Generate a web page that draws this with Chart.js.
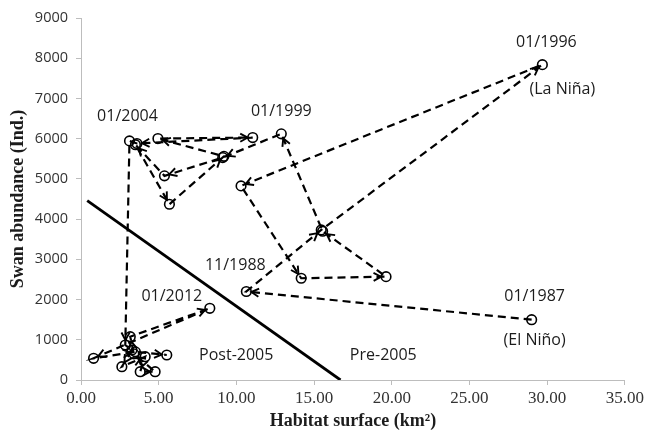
<!DOCTYPE html>
<html>
<head>
<meta charset="utf-8">
<script src="https://cdn.jsdelivr.net/npm/chart.js@4/dist/chart.umd.min.js"></script>
<style>
  html, body { margin: 0; padding: 0; background: #fff; }
  #wrap { width: 647px; height: 436px; }
</style>
</head>
<body>
<div id="wrap"><canvas id="chart"></canvas></div>
<script>
// Monthly trajectory of the swan population: habitat surface (km²) vs. abundance
const habitat = [
  29.0, 10.64, 15.46, 29.69, 10.3, 14.17, 19.63, 15.55, 12.89, 9.12,
  5.37, 3.5, 5.69, 9.2, 4.95, 11.05, 3.6, 3.12, 2.85, 3.28,
  2.63, 4.13, 3.81, 4.77, 3.4, 3.17, 8.29, 0.81, 3.5, 5.52
];
const swans = [
  1500, 2200, 3730, 7840, 4826, 2530, 2570, 3700, 6120, 5530,
  5075, 5850, 4370, 5560, 6003, 6028, 5880, 5945, 870, 746,
  331, 580, 207, 207, 650, 1078, 1783, 540, 700, 622
];

// Dated observations along the trajectory
const dateIndex = [0, 1, 3, 8, 17, 26];
const dateText  = ['01/1987', '11/1988', '01/1996', '01/1999', '01/2004', '01/2012'];
const eventIndex = [0, 3];
const eventText  = ['(El Niño)', '(La Niña)'];

// Regime boundary separating the pre- and post-2005 states
const boundaryX = [0.4, 16.7];
const boundaryY = [4460, 0];
const regimeText = ['Post-2005', 'Pre-2005'];
const regimeX = [7.6, 17.3];
const regimeY = [600, 600];

const xTicks = [0, 5, 10, 15, 20, 25, 30, 35];
const yTicks = [0, 1000, 2000, 3000, 4000, 5000, 6000, 7000, 8000, 9000];

const trajectory = habitat.map((x, i) => ({ x, y: swans[i] }));
const boundary = boundaryX.map((x, i) => ({ x, y: boundaryY[i] }));

const TEXT = '#1c1c1c';
const AXIS = '#bdbdbd';
const LABEL_FONT = '16px "Open Sans"';
const SERIF = '"Liberation Serif", "Times New Roman", serif';

// Open arrowheads at the end of each step of the trajectory
const arrowPlugin = {
  id: 'arrows',
  afterDatasetsDraw(chart) {
    const pts = chart.getDatasetMeta(0).data;
    const ctx = chart.ctx;
    ctx.save();
    ctx.strokeStyle = '#000';
    ctx.lineWidth = 1.9;
    ctx.setLineDash([]);
    for (let i = 1; i < pts.length; i++) {
      const a = pts[i - 1], b = pts[i];
      const dx = b.x - a.x, dy = b.y - a.y;
      const len = Math.hypot(dx, dy);
      if (len < 12) continue;
      const ux = dx / len, uy = dy / len;
      const tx = b.x - ux * 5, ty = b.y - uy * 5;
      const ang = Math.atan2(uy, ux);
      const arm = 8.5, spread = 0.5;
      ctx.beginPath();
      ctx.moveTo(tx - arm * Math.cos(ang - spread), ty - arm * Math.sin(ang - spread));
      ctx.lineTo(tx, ty);
      ctx.lineTo(tx - arm * Math.cos(ang + spread), ty - arm * Math.sin(ang + spread));
      ctx.stroke();
    }
    ctx.restore();
  }
};

// Date, event and regime annotations
const notePlugin = {
  id: 'notes',
  afterDatasetsDraw(chart) {
    const pts = chart.getDatasetMeta(0).data;
    const ctx = chart.ctx;
    const sx = chart.scales.x, sy = chart.scales.y;
    const dateShift = {
      '01/1987': [3, -23], '11/1988': [-11, -26], '01/1996': [4, -22],
      '01/1999': [0, -22], '01/2004': [-2, -24], '01/2012': [-38, -12]
    };
    const eventShift = { '(El Niño)': [3, 21], '(La Niña)': [20, 25] };
    ctx.save();
    ctx.fillStyle = TEXT;
    ctx.font = LABEL_FONT;
    ctx.textAlign = 'center';
    ctx.textBaseline = 'middle';
    dateIndex.forEach((idx, k) => {
      const s = dateShift[dateText[k]];
      ctx.fillText(dateText[k], pts[idx].x + s[0], pts[idx].y + s[1]);
    });
    eventIndex.forEach((idx, k) => {
      const s = eventShift[eventText[k]];
      ctx.fillText(eventText[k], pts[idx].x + s[0], pts[idx].y + s[1]);
    });
    ctx.textAlign = 'left';
    regimeText.forEach((t, k) => {
      ctx.fillText(t, sx.getPixelForValue(regimeX[k]), sy.getPixelForValue(regimeY[k]));
    });
    ctx.restore();
  }
};

new Chart(document.getElementById('chart'), {
  type: 'scatter',
  data: {
    datasets: [
      {
        data: trajectory,
        showLine: true,
        borderColor: '#000',
        borderWidth: 2.2,
        borderDash: [8, 5],
        pointRadius: 4.8,
        pointBorderWidth: 1.6,
        pointBorderColor: '#000',
        pointBackgroundColor: 'rgba(0,0,0,0)',
        tension: 0
      },
      {
        data: boundary,
        showLine: true,
        borderColor: '#000',
        borderWidth: 2.8,
        pointRadius: 0
      }
    ]
  },
  options: {
    responsive: true,
    maintainAspectRatio: false,
    animation: false,
    layout: { padding: { top: 18, right: 21, bottom: 0, left: 0 } },
    plugins: { legend: { display: false }, tooltip: { enabled: false } },
    scales: {
      x: {
        type: 'linear',
        min: 0, max: 35,
        afterBuildTicks: s => { s.ticks = xTicks.map(v => ({ value: v })); },
        afterFit: s => { s.height = 56; },
        border: { color: AXIS, width: 1 },
        grid: { drawOnChartArea: false, drawTicks: true, tickLength: 5, color: AXIS },
        ticks: {
          color: '#333',
          padding: 3,
          maxRotation: 0,
          font: { family: SERIF, size: 17 },
          callback: v => Number(v).toFixed(2)
        },
        title: {
          display: true,
          text: 'Habitat surface (km²)',
          color: TEXT,
          font: { family: SERIF, size: 18, weight: 'bold' },
          padding: { top: 0, bottom: 4 }
        }
      },
      y: {
        type: 'linear',
        min: 0, max: 9000,
        afterBuildTicks: s => { s.ticks = yTicks.map(v => ({ value: v })); },
        afterFit: s => { s.width = 81; },
        border: { color: AXIS, width: 1 },
        grid: { drawOnChartArea: false, drawTicks: true, tickLength: 5, color: AXIS },
        ticks: {
          color: '#333',
          padding: 8,
          font: { family: '"Open Sans", sans-serif', size: 14.5 },
          callback: v => String(v)
        },
        title: {
          display: true,
          text: 'Swan abundance (Ind.)',
          color: TEXT,
          font: { family: SERIF, size: 18, weight: 'bold' },
          padding: { top: 8, bottom: 0 }
        }
      }
    }
  },
  plugins: [arrowPlugin, notePlugin]
});
</script>
</body>
</html>
